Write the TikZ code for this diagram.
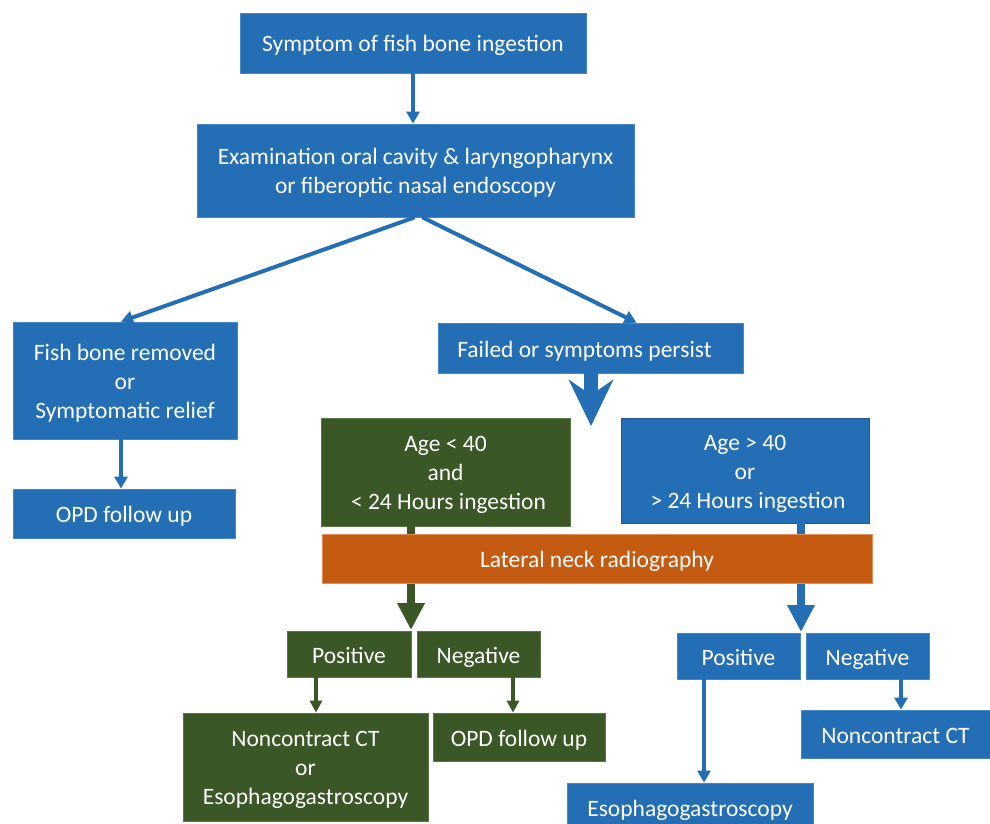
\documentclass[tikz,border=0pt]{standalone}
\usepackage{fontspec}
\setmainfont{Carlito}
\usetikzlibrary{arrows.meta}
\definecolor{bblue}{RGB}{35,110,180}
\definecolor{bbord}{RGB}{70,135,200}
\definecolor{bdark}{RGB}{47,82,143}
\definecolor{ggreen}{RGB}{58,87,37}
\definecolor{gbord}{RGB}{90,120,70}
\definecolor{oorange}{RGB}{197,90,17}
\definecolor{obord}{RGB}{225,140,90}
\newcommand{\mlines}[1]{\raisebox{-3pt}[\height][\depth]{\begin{tabular}{@{}c@{}}#1\end{tabular}}}
\tikzset{
  box/.style={rectangle, inner sep=0pt, text=white, align=center,
    font=\fontsize{23.5}{29}\selectfont, line width=0.8pt,
    execute at begin node={\rule[-6pt]{0pt}{30pt}},
    execute at end node={\rule[-6pt]{0pt}{6pt}}},
  multi/.style={box, execute at begin node={}, execute at end node={}},
  bluebox/.style={box, fill=bblue, draw=bbord},
  greenbox/.style={box, fill=ggreen, draw=gbord},
  orangebox/.style={box, fill=oorange, draw=obord},
  barrow/.style={draw=bblue, line width=4pt, -{Triangle[width=13pt,length=12pt]}, fill=bblue},
  garrow/.style={draw=ggreen, line width=4pt, -{Triangle[width=12pt,length=12pt]}, fill=ggreen},
  bigblue/.style={draw=bblue, line width=8pt, -{Triangle[width=26pt,length=27pt]}, fill=bblue},
  biggreen/.style={draw=ggreen, line width=8pt, -{Triangle[width=26pt,length=27pt]}, fill=ggreen},
  hugeblue/.style={draw=bblue, line width=14pt, -{Stealth[width=44pt,length=46pt,inset=15pt]}, fill=bblue}
}
\begin{document}
\begin{tikzpicture}[x=1pt,y=-1pt]
\useasboundingbox (0,0) rectangle (990,824);
% nodes
\node[bluebox, minimum width=346pt, minimum height=60pt] (sym) at (413,43) {Symptom of fish bone ingestion};
\node[bluebox, minimum width=437pt, minimum height=93pt] (exam) at (415.5,170.5) {\mlines{Examination oral cavity \& laryngopharynx\\or fiberoptic nasal endoscopy}};
\node[bluebox, minimum width=224pt, minimum height=117pt] (fish) at (125,380.5) {\mlines{Fish bone removed\\or\\Symptomatic relief}};
\node[bluebox, minimum width=222pt, minimum height=49pt] (opd1) at (124,513.5) {OPD follow up};
\node[bluebox, minimum width=305pt, minimum height=50pt] (fail) at (590.5,348) {Failed or symptoms persist\hspace{12pt}};
\node[greenbox, minimum width=249pt, minimum height=108pt] (young) at (445.5,472) {\mlines{Age < 40\\and\\\hspace{6pt}< 24 Hours ingestion}};
\node[bluebox, draw=bdark, minimum width=248pt, minimum height=105pt] (old) at (745,470.5) {\mlines{Age > 40\\or\\\hspace{6pt}> 24 Hours ingestion}};
\node[greenbox, minimum width=124pt, minimum height=46pt] (gpos) at (349,654) {Positive};
\node[greenbox, minimum width=123pt, minimum height=46pt] (gneg) at (478.5,654) {Negative};
\node[greenbox, minimum width=245pt, minimum height=108pt] (gct) at (305.5,767) {\mlines{Noncontract CT\\or\\Esophagogastroscopy}};
\node[greenbox, minimum width=172pt, minimum height=48pt] (gopd) at (519,737) {OPD follow up};
\node[bluebox, minimum width=123pt, minimum height=46pt] (bpos) at (738.5,656) {Positive};
\node[bluebox, minimum width=123pt, minimum height=46pt] (bneg) at (867.5,656) {Negative};
\node[bluebox, minimum width=189pt, minimum height=48pt] (bct) at (895.5,734) {Noncontract CT};
\node[bluebox, minimum width=246pt, minimum height=48pt] (besoph) at (690,807) {Esophagogastroscopy};
\coordinate (bigtip) at (591,426);
\coordinate (gtip) at (411,630);
\coordinate (btip) at (801,632);
% connectors
\draw[barrow] (sym.south) -- (sym.south |- exam.north);
\draw[barrow] ([xshift=-1pt]exam.south) -- ([xshift=-4pt]fish.north);
\draw[barrow] ([xshift=7pt]exam.south) -- ([xshift=46pt]fail.north);
\draw[barrow] ([xshift=-4pt]fish.south) -- ([xshift=-3pt]opd1.north);
\draw[hugeblue] (fail.south -| bigtip) -- (bigtip);
\draw[biggreen] (young.south -| gtip) -- (gtip);
\draw[bigblue] (old.south -| btip) -- (btip);
\draw[garrow] ([xshift=-33pt]gpos.south) -- ([xshift=10.5pt]gct.north);
\draw[garrow] ([xshift=34.5pt]gneg.south) -- ([xshift=-6pt]gopd.north);
\draw[barrow] ([xshift=-34.5pt]bpos.south) -- ([xshift=14pt]besoph.north);
\draw[barrow] ([xshift=33.5pt]bneg.south) -- ([xshift=5.5pt]bct.north);
% orange bar drawn over the connectors
\node[orangebox, minimum width=550pt, minimum height=49pt] (lat) at (597,558.5) {Lateral neck radiography};
\end{tikzpicture}
\end{document}
